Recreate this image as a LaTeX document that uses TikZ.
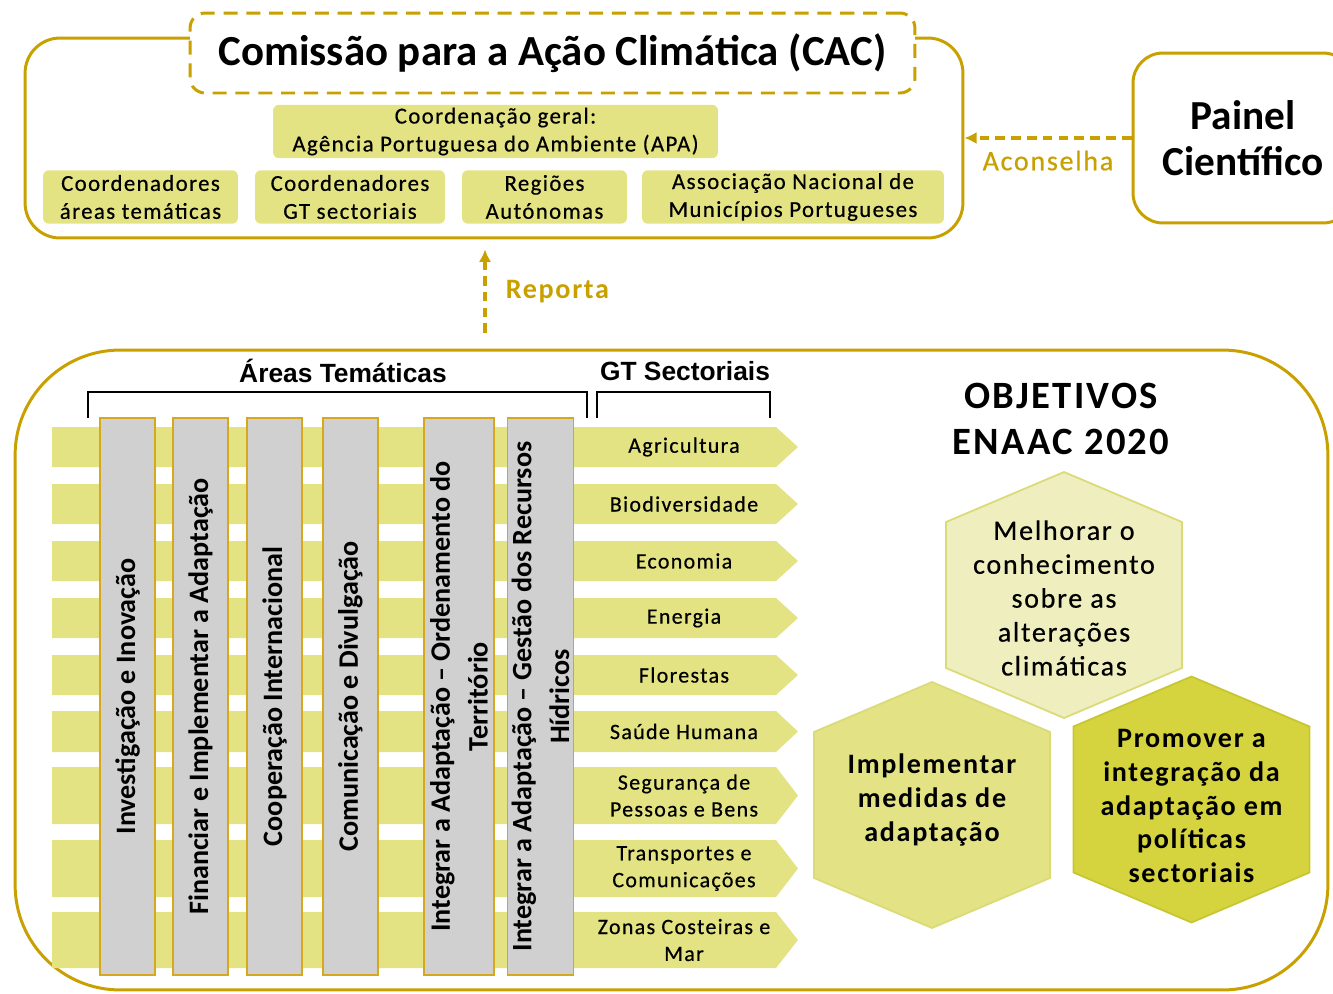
\documentclass[tikz,border=0pt]{standalone}
\usepackage{fontspec}
\setmainfont{Carlito}
\newfontfamily\spaced[LetterSpace=6]{Carlito}
\newfontfamily\heavy[LetterSpace=6, FakeBold=0.5]{Carlito}
\newfontfamily\headfont{Liberation Sans}
\usepackage{tikz}
\usetikzlibrary{arrows.meta,positioning,calc}

\definecolor{gold}{RGB}{200,160,0}
\definecolor{band}{RGB}{227,227,132}
\definecolor{bargray}{RGB}{208,208,208}
\definecolor{barline}{RGB}{214,168,30}
\definecolor{hexpale}{RGB}{238,238,190}
\definecolor{hexmid}{RGB}{227,227,134}
\definecolor{hexdark}{RGB}{213,211,62}
\definecolor{hexline}{RGB}{218,218,118}
\definecolor{hexdarkline}{RGB}{200,198,48}

% pointy-top hexagon around a centre
\newcommand{\hexcell}[3]{%
  \filldraw[fill=#2, draw=#3, line width=1pt, shift={(#1)}]
    (0,-123) -- (118,-73) -- (118,73) -- (0,123) -- (-118,73) -- (-118,-73) -- cycle;}

\begin{document}
\begin{tikzpicture}[
  x=0.02cm, y=-0.02cm,
  frame/.style={draw=gold, line width=1.7pt},
  titlebox/.style={draw=gold, fill=white, line width=1.7pt, dash pattern=on 8pt off 5pt, rounded corners=0.3cm, minimum width=14.5cm, minimum height=1.6cm, font=\bfseries\fontsize{24.4}{29}\selectfont},
  member/.style={fill=band, rounded corners=0.12cm, align=center, minimum height=1.07cm, inner sep=0pt, font=\heavy\fontsize{13}{15.9}\selectfont},
  panel/.style={draw=gold, line width=1.7pt, rounded corners=0.6cm, align=center, minimum width=4.4cm, minimum height=3.4cm, font=\bfseries\fontsize{23.5}{26}\selectfont},
  link/.style={draw=gold, line width=2pt, dash pattern=on 5.5pt off 3.5pt, -{Latex[length=7pt,width=7pt]}},
  linklabel/.style={text=gold, inner sep=0pt, font=\heavy\fontsize{16}{19}\selectfont},
  head/.style={font=\headfont\bfseries\fontsize{15}{18}\selectfont},
  brace/.style={draw=black, line width=1.4pt},
  bar/.style={rotate=90, draw=barline, line width=0.9pt, fill=bargray, align=center, minimum width=11.14cm, inner sep=0pt, font=\bfseries\fontsize{16}{21.5}\selectfont},
  sector/.style={align=center, inner sep=0pt, font=\heavy\fontsize{12.5}{15.3}\selectfont},
  goal/.style={align=center, inner sep=0pt, font=\heavy\fontsize{16}{19.3}\selectfont},
  goalbold/.style={goal, font=\spaced\bfseries\fontsize{16}{19.3}\selectfont}
]
\useasboundingbox (0,0) rectangle (1333,994);

% CAC block
\node[frame, rounded corners=0.7cm, minimum width=18.76cm, minimum height=4cm] (cacbox) at (494,138) {};
\node[titlebox] (cac) at (552.5,53) {Comissão para a Ação Climática (CAC)};
\node[member, minimum width=8.9cm] (apa) at (495.5,131.5) {Coordenação geral:\\Agência Portuguesa do Ambiente (APA)};
\node[member, minimum width=3.9cm] (coordat) at (140.5,197) {Coordenadores\\áreas temáticas};
\node[member, minimum width=3.8cm] (coordgt) at (350,197) {Coordenadores\\GT sectoriais};
\node[member, minimum width=3.3cm] (regioes) at (544.5,197) {Regiões\\Autónomas};
\node[member, minimum width=6.04cm] (anmp) at (793,197) {Associação Nacional de\\Municípios Portugueses};

\node[panel] (painel) at (1243,138) {Painel\\Científico};
\draw[link] (painel.west) -- node[linklabel, below=0.22cm] (aconselha) {Aconselha} (cacbox.east);

\coordinate (rep) at (485,333);
\draw[link] (rep) -- node[linklabel, font=\spaced\bfseries\fontsize{16}{19}\selectfont, right=0.38cm] (reporta) {Reporta} ($(cacbox.south -| rep)+(0,10)$);

% ENAAC block
\node[frame, rounded corners=2.1cm, minimum width=26.26cm, minimum height=12.8cm] (enaac) at (671.5,670) {};
\node[head] (areas) at (343,371) {Áreas Temáticas};
\node[head] (gts) at (685,371) {GT Sectoriais};
\draw[brace] (88,418) |- (587,392) -- (587,418);
\draw[brace] (597,418) |- (770,392) -- (770,418);

\foreach \yt/\yc/\yb/\name/\txt in {427/447/467/agr/Agricultura, 484/504/524/bio/Biodiversidade,
    541/561/581/eco/Economia, 598/618/638/ene/Energia, 655/675/695/flo/Florestas,
    711/731.5/752/sau/Saúde Humana, 767/795.5/824/seg/{Segurança de\\Pessoas e Bens},
    840/868.5/897/tra/{Transportes e\\Comunicações}, 912/940/968/zon/{Zonas Costeiras e\\Mar}}{
  \fill[band] (52,\yt) -- (776,\yt) -- (798,\yc) -- (776,\yb) -- (52,\yb) -- cycle;
  \node[sector] (\name) at (684,\yc) {\txt};
}

\node[bar, minimum height=1.1cm] (investig) at (127.5,696.5) {Investigação e Inovação};
\node[bar, minimum height=1.1cm] (financ) at (200.5,696.5) {Financiar e Implementar a Adaptação};
\node[bar, minimum height=1.1cm] (coop) at (274.5,696.5) {Cooperação Internacional};
\node[bar, minimum height=1.1cm] (comun) at (350.5,696.5) {Comunicação e Divulgação};
\node[bar, minimum height=1.4cm] (ordter) at (459,696.5) {Integrar a Adaptação – Ordenamento do\\Território};
\node[bar, minimum height=1.32cm] (rechid) at (540.5,696.5) {Integrar a Adaptação – Gestão dos Recursos\\Hídricos};

% objectives
\node[align=center, font=\spaced\bfseries\fontsize{22}{26.6}\selectfont] (obj) at (1061,419) {OBJETIVOS\\ENAAC 2020};
\hexcell{1064,595}{hexpale}{hexline}
\hexcell{932,805}{hexmid}{hexline}
\hexcell{1191.5,799.5}{hexdark}{hexdarkline}
\node[goal] (know) at (1064,598) {Melhorar o\\conhecimento\\sobre as\\alterações\\climáticas};
\node[goalbold] (implement) at (932,800) {Implementar\\medidas de\\adaptação};
\node[goalbold] (promote) at (1191.5,806) {Promover a\\integração da\\adaptação em\\políticas\\sectoriais};
\end{tikzpicture}
\end{document}
